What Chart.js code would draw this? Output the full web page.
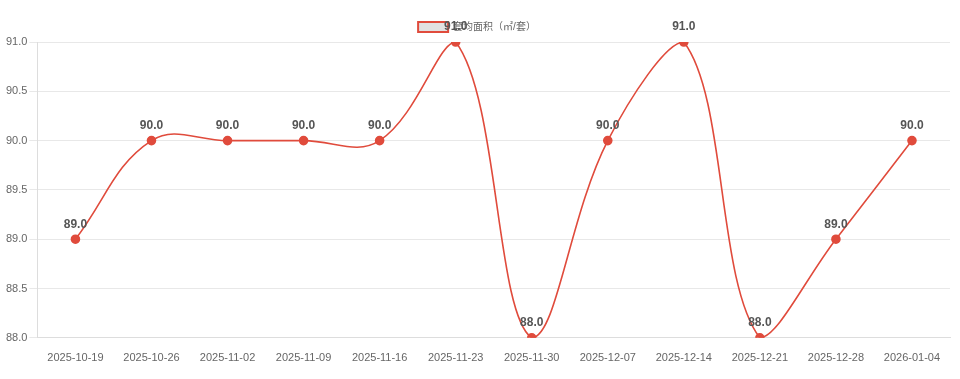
<!DOCTYPE html>
<html><head><meta charset="utf-8">
<script src="https://cdn.jsdelivr.net/npm/chart.js@4/dist/chart.umd.min.js"></script>
<style>html,body{margin:0;padding:0;background:#fff}#wrap{width:960px;height:379px}</style>
</head><body><div id="wrap"><canvas id="c"></canvas></div>
<script>
const categories = ['2025-10-19','2025-10-26','2025-11-02','2025-11-09','2025-11-16','2025-11-23','2025-11-30','2025-12-07','2025-12-14','2025-12-21','2025-12-28','2026-01-04'];
const avgArea = [89.0, 90.0, 90.0, 90.0, 90.0, 91.0, 88.0, 90.0, 91.0, 88.0, 89.0, 90.0];
const seriesLabel = '套均面积（㎡/套）';

const labelPlugin = {
  id: 'valueLabels',
  afterDatasetsDraw(chart) {
    const ctx = chart.ctx;
    const meta = chart.getDatasetMeta(0);
    ctx.save();
    ctx.font = 'bold 12px "Liberation Sans", Arial, sans-serif';
    ctx.fillStyle = '#555';
    ctx.textAlign = 'center';
    ctx.textBaseline = 'bottom';
    meta.data.forEach((pt, i) => {
      ctx.fillText(avgArea[i].toFixed(1), pt.x, pt.y - 9);
    });
    ctx.restore();
  }
};

new Chart(document.getElementById('c'), {
  type: 'line',
  data: {
    labels: categories,
    datasets: [{
      label: seriesLabel,
      data: avgArea,
      borderColor: '#e04b3c',
      backgroundColor: 'rgba(220,220,220,0.8)',
      pointBackgroundColor: '#e04b3c',
      pointBorderColor: '#e04b3c',
      pointRadius: 4,
      borderWidth: 1.6,
      tension: 0.4,
      fill: false
    }]
  },
  options: {
    responsive: true,
    maintainAspectRatio: false,
    animation: false,
    layout: { padding: { left: 4, right: 10, top: 12, bottom: 0 } },
    plugins: {
      legend: {
        display: true,
        position: 'top',
        labels: {
          boxWidth: 30, boxHeight: 10,
          color: '#666',
          font: { size: 10, family: '"Liberation Sans", Arial, "Noto Sans CJK SC", sans-serif' },
          generateLabels(chart) {
            return [{ text: seriesLabel, fillStyle: 'rgba(225,225,225,1)', strokeStyle: '#e04b3c', lineWidth: 2, datasetIndex: 0, fontColor: '#666' }];
          }
        }
      },
      tooltip: { enabled: false }
    },
    scales: {
      x: {
        offset: true,
        grid: { display: false, drawTicks: false },
        border: { display: true, color: '#ddd' },
        ticks: { color: '#666', font: { size: 11, family: '"Liberation Sans", Arial, sans-serif' }, padding: 14, maxRotation: 0 }
      },
      y: {
        min: 88, max: 91,
        grid: { color: '#e8e8e8', tickLength: 8 },
        border: { display: true, color: '#ddd' },
        ticks: { stepSize: 0.5, color: '#666', font: { size: 11, family: '"Liberation Sans", Arial, sans-serif' }, padding: 2, callback: v => Number(v).toFixed(1) }
      }
    }
  },
  plugins: [labelPlugin]
});
</script></body></html>
